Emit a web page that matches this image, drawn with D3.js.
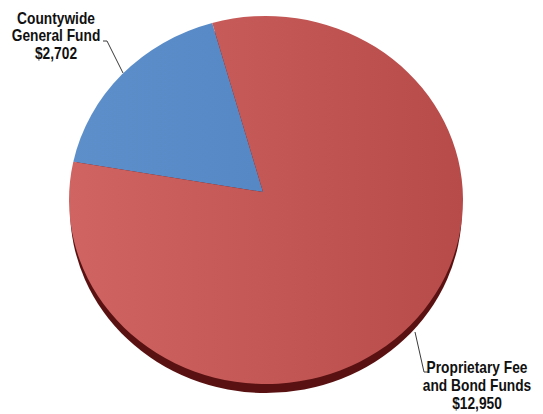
<!DOCTYPE html>
<html>
<head>
<meta charset="utf-8">
<script src="https://cdn.jsdelivr.net/npm/d3@7"></script>
<style>
  body { margin: 0; background: #fff; }
  text { font-family: "Liberation Sans", Arial, sans-serif; font-weight: bold; fill: #111; }
</style>
</head>
<body>
<svg id="chart" width="543" height="414"></svg>
<script>
// Fund sources (amounts in millions)
const categories = ["Countywide General Fund", "Proprietary Fee and Bond Funds"];
const amounts = [2702, 12950];
const labelLines = [
  ["Countywide", "General Fund", "$2,702"],
  ["Proprietary Fee", "and Bond Funds", "$12,950"]
];
const faceColors = [["#5d90cb", "#4c7fbd"], ["#cf6462", "#b64b49"]];

const svg = d3.select("#chart");

// Tilted pie: elliptical face with a short extruded rim underneath
const cx = 266, cy = 200, rx = 197, ry = 184, depth = 9;
const apex = [263, 192];

const deg = Math.PI / 180;
const pie = d3.pie().sort(null).value(d => d).startAngle(-78 * deg).endAngle(282 * deg);
const arcs = pie(amounts);

const pt = a => [cx + rx * Math.sin(a), cy - ry * Math.cos(a)];

const defs = svg.append("defs");
faceColors.forEach((c, i) => {
  const g = defs.append("linearGradient")
    .attr("id", "face" + i)
    .attr("gradientUnits", "userSpaceOnUse")
    .attr("x1", cx - rx).attr("y1", 0).attr("x2", cx + rx).attr("y2", 0);
  g.append("stop").attr("offset", 0).attr("stop-color", c[0]);
  g.append("stop").attr("offset", 1).attr("stop-color", c[1]);
});

// Rim (dark side of the disc)
svg.append("ellipse")
  .attr("cx", cx).attr("cy", cy + depth)
  .attr("rx", rx - 1).attr("ry", ry)
  .attr("fill", "#5a1111");

// Slices
function slicePath(d) {
  const p0 = pt(d.startAngle), p1 = pt(d.endAngle);
  const large = (d.endAngle - d.startAngle) > Math.PI ? 1 : 0;
  return `M${apex[0]},${apex[1]}L${p0[0]},${p0[1]}A${rx},${ry} 0 ${large} 1 ${p1[0]},${p1[1]}Z`;
}

svg.selectAll("path.slice")
  .data(arcs)
  .join("path")
  .attr("class", "slice")
  .attr("d", slicePath)
  .attr("fill", (d, i) => `url(#face${i})`);

// Labels with leader lines (condensed bold type)
const labelPos = [
  { x: 56, y: [24, 41.5, 59], line: [[103, 41], [107, 41], [123, 73]] },
  { x: 477, y: [373.5, 391.5, 409.5], line: [[428, 372], [424, 372], [415, 332]] }
];

labelPos.forEach((lp, i) => {
  svg.append("path")
    .attr("d", d3.line()(lp.line))
    .attr("fill", "none")
    .attr("stroke", "#3a3a3a")
    .attr("stroke-width", 1);
  const t = svg.append("text")
    .attr("text-anchor", "middle")
    .attr("font-size", 16)
    .attr("transform", `translate(${lp.x},0) scale(0.86,1)`);
  labelLines[i].forEach((s, j) => {
    t.append("tspan").attr("x", 0).attr("y", lp.y[j]).text(s);
  });
});
</script>
</body>
</html>
